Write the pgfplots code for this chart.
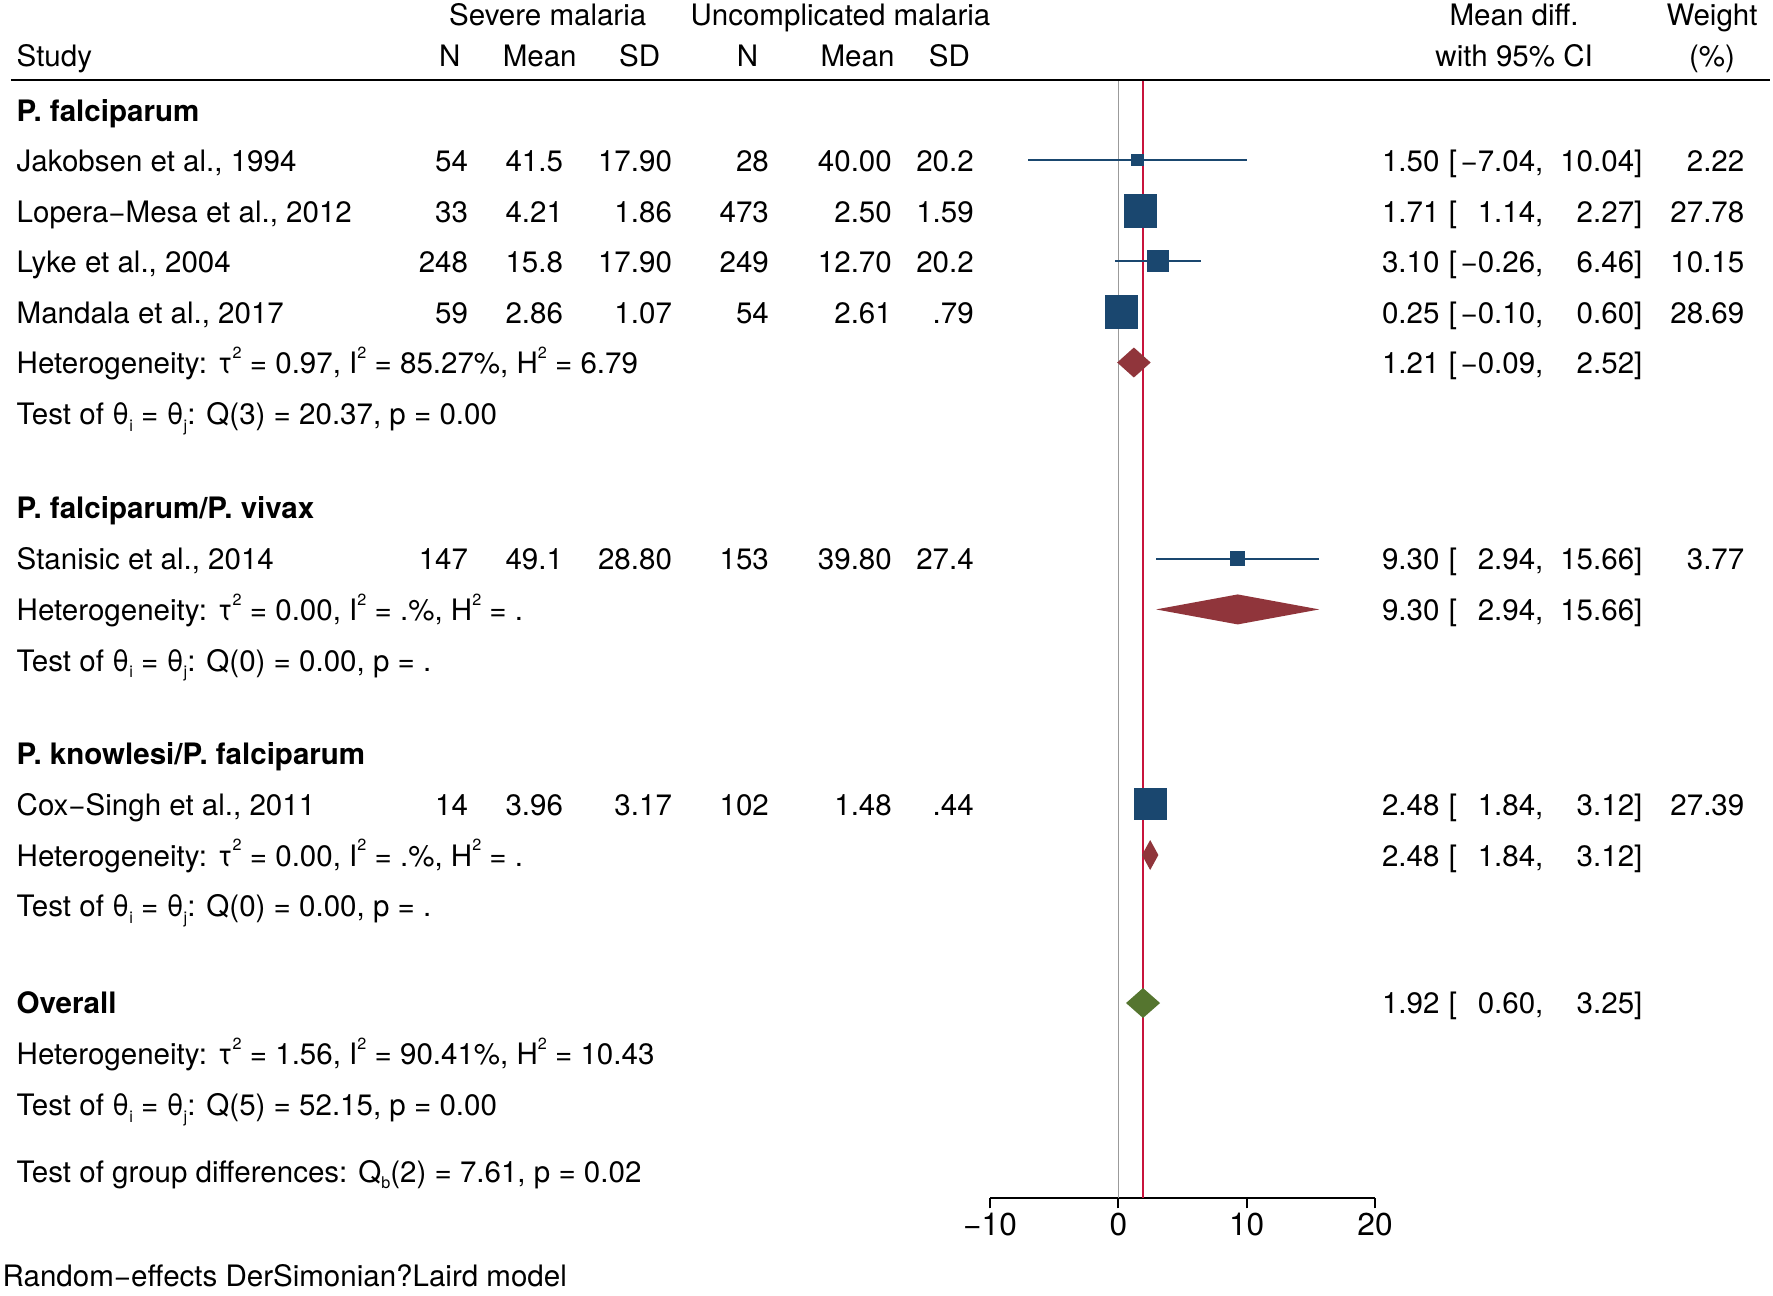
\documentclass[border=0pt]{standalone}
\usepackage{fontspec}
\setmainfont{TeX Gyre Heros}
\usepackage{pgfplots}
\pgfplotsset{compat=1.18}
\definecolor{navy}{RGB}{26,71,111}
\definecolor{maroon}{RGB}{144,53,59}
\definecolor{fgreen}{RGB}{85,117,47}
\definecolor{redline}{RGB}{200,20,60}
\definecolor{zline}{RGB}{155,155,155}
\newcommand\fsz{\fontsize{8.4}{10}\selectfont}
\newcommand\tsz{\fontsize{9}{10.5}\selectfont}
\newcommand\sq{\raisebox{0.52em}{\fontsize{4.6}{5}\selectfont 2}}
\newcommand\sub[1]{\raisebox{-0.22em}{\fontsize{4.6}{5}\selectfont #1}}
\newcommand\st[8]{%
  \node[L] at (16,#1+11.5) {#2};
  \node[R] at (469,#1+11.5) {#3};
  \node[R] at (564,#1+11.5) {#4};
  \node[R] at (673,#1+11.5) {#5};
  \node[R] at (770,#1+11.5) {#6};
  \node[R] at (893,#1+11.5) {#7};
  \node[R] at (975,#1+11.5) {#8};}
\newcommand\ci[5]{%
  \node[R] at (1441,#1+11.5) {#2};
  \node[L] at (1449,#1+11.5) {[};
  \node[R] at (1545,#1+11.5) {#3,};
  \node[R] at (1644,#1+11.5) {#4]};
  \node[R] at (1746,#1+11.5) {#5};}
\begin{document}
\begin{tikzpicture}[font=\fsz]
\useasboundingbox (0,0) rectangle (17.73cm,-12.95cm);
\begin{axis}[at={(9.90cm,-11.977cm)}, anchor=south west,
  scale only axis, width=3.85cm, height=11.177cm,
  xmin=-10, xmax=20, ymin=-1197.7, ymax=-80,
  axis x line=bottom, axis y line=none,
  x axis line style={-, line width=0.5pt},
  xtick={-10,0,10,20}, xticklabels={−10,0,10,20},
  tick align=outside, major tick length=0.107cm,
  xtick style={black, line width=0.5pt},
  ticklabel style={font=\tsz},
  xticklabel style={yshift=0.08cm},
  clip=false]
% reference lines
\addplot[zline, line width=0.45pt] coordinates {(0,-80) (0,-1197.7)};
\addplot[redline, line width=0.5pt] coordinates {(1.92,-80) (1.92,-1197.7)};
% confidence intervals
\addplot[navy, line width=0.55pt] coordinates {(-7.04,-160) (10.04,-160)};
\addplot[navy, line width=0.55pt] coordinates {(1.14,-211) (2.27,-211)};
\addplot[navy, line width=0.55pt] coordinates {(-0.26,-261) (6.46,-261)};
\addplot[navy, line width=0.55pt] coordinates {(-0.10,-312) (0.60,-312)};
\addplot[navy, line width=0.55pt] coordinates {(2.94,-558.6) (15.66,-558.6)};
\addplot[navy, line width=0.55pt] coordinates {(1.84,-804) (3.12,-804)};
% study squares (size by weight)
\addplot[only marks, mark=square*, mark size=1.55pt, navy] coordinates {(1.50,-160)};
\addplot[only marks, mark=square*, mark size=4.55pt, navy] coordinates {(1.71,-211)};
\addplot[only marks, mark=square*, mark size=2.85pt, navy] coordinates {(3.10,-261)};
\addplot[only marks, mark=square*, mark size=4.6pt, navy] coordinates {(0.25,-312)};
\addplot[only marks, mark=square*, mark size=1.9pt, navy] coordinates {(9.30,-558.6)};
\addplot[only marks, mark=square*, mark size=4.45pt, navy] coordinates {(2.48,-804)};
% subgroup diamonds
\addplot[fill=maroon, draw=none] coordinates {(-0.09,-362.5) (1.21,-347.5) (2.52,-362.5) (1.21,-377.5)} --cycle;
\addplot[fill=maroon, draw=none] coordinates {(2.94,-609.4) (9.30,-594.4) (15.66,-609.4) (9.30,-624.4)} --cycle;
\addplot[fill=maroon, draw=none] coordinates {(1.84,-855) (2.48,-840) (3.12,-855) (2.48,-870)} --cycle;
% overall diamond
\addplot[fill=fgreen, draw=none] coordinates {(0.60,-1003) (1.92,-988) (3.25,-1003) (1.92,-1018)} --cycle;
\end{axis}
\begin{scope}[x=0.01cm, y=-0.01cm, L/.style={anchor=base west, inner sep=0pt}, R/.style={anchor=base east, inner sep=0pt}, C/.style={anchor=base, inner sep=0pt}]
% header
\node[C] at (548,26) {Severe malaria};
\node[C] at (841,26) {Uncomplicated malaria};
\node[C] at (1515,26) {Mean diff.};
\node[C] at (1713,26) {Weight};
\node[L] at (16,66.8) {Study};
\node[C] at (450,66.8) {N};
\node[C] at (540,66.8) {Mean};
\node[C] at (640,66.8) {SD};
\node[C] at (748,66.8) {N};
\node[C] at (858,66.8) {Mean};
\node[C] at (950,66.8) {SD};
\node[C] at (1515,66.8) {with 95\% CI};
\node[C] at (1713,66.8) {(\%)};
\draw[line width=0.75pt] (11,80) -- (1771,80);
% group 1
\node[L] at (16,121.2) {\bfseries P. falciparum};
\st{160}{Jakobsen et al., 1994}{54}{41.5}{17.90}{28}{40.00}{20.2}
\ci{160}{1.50}{−7.04}{10.04}{2.22}
\st{211}{Lopera−Mesa et al., 2012}{33}{4.21}{1.86}{473}{2.50}{1.59}
\ci{211}{1.71}{1.14}{2.27}{27.78}
\st{261}{Lyke et al., 2004}{248}{15.8}{17.90}{249}{12.70}{20.2}
\ci{261}{3.10}{−0.26}{6.46}{10.15}
\st{312}{Mandala et al., 2017}{59}{2.86}{1.07}{54}{2.61}{.79}
\ci{312}{0.25}{−0.10}{0.60}{28.69}
\node[L] at (16,374) {Heterogeneity: τ\sq{} = 0.97, I\sq{} = 85.27\%, H\sq{} = 6.79};
\ci{362.5}{1.21}{−0.09}{2.52}{}
\node[L] at (16,425) {Test of θ\sub{i} = θ\sub{j}: Q(3) = 20.37, p = 0.00};
% group 2
\node[L] at (16,519.2) {\bfseries P. falciparum/P. vivax};
\st{558.6}{Stanisic et al., 2014}{147}{49.1}{28.80}{153}{39.80}{27.4}
\ci{558.6}{9.30}{2.94}{15.66}{3.77}
\node[L] at (16,620.9) {Heterogeneity: τ\sq{} = 0.00, I\sq{} = .\%, H\sq{} = .};
\ci{609.4}{9.30}{2.94}{15.66}{}
\node[L] at (16,671.8) {Test of θ\sub{i} = θ\sub{j}: Q(0) = 0.00, p = .};
% group 3
\node[L] at (16,764.5) {\bfseries P. knowlesi/P. falciparum};
\st{804}{Cox−Singh et al., 2011}{14}{3.96}{3.17}{102}{1.48}{.44}
\ci{804}{2.48}{1.84}{3.12}{27.39}
\node[L] at (16,866.5) {Heterogeneity: τ\sq{} = 0.00, I\sq{} = .\%, H\sq{} = .};
\ci{855}{2.48}{1.84}{3.12}{}
\node[L] at (16,917.2) {Test of θ\sub{i} = θ\sub{j}: Q(0) = 0.00, p = .};
% overall
\node[L] at (16,1014.5) {\bfseries Overall};
\ci{1003}{1.92}{0.60}{3.25}{}
\node[L] at (16,1065.5) {Heterogeneity: τ\sq{} = 1.56, I\sq{} = 90.41\%, H\sq{} = 10.43};
\node[L] at (16,1116.2) {Test of θ\sub{i} = θ\sub{j}: Q(5) = 52.15, p = 0.00};
\node[L] at (16,1182.9) {Test of group differences: Q\sub{b}(2) = 7.61, p = 0.02};
\node[L] at (2,1287.6) {Random−effects DerSimonian?Laird model};
\end{scope}
\end{tikzpicture}
\end{document}
